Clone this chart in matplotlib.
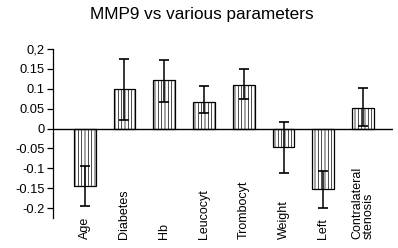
import numpy as np
import matplotlib
matplotlib.use("Agg")
from matplotlib import pyplot as plt
from matplotlib import transforms

plt.rcParams['font.family'] = ['Liberation Sans', 'DejaVu Sans']
plt.rcParams['hatch.linewidth'] = 0.5

labels = ["Age", "Diabetes", "Hb", "Leucocyt", "Trombocyt", "Weight", "Left",
          "Contralateral\nstenosis"]
values = [-0.144, 0.099, 0.121, 0.066, 0.109, -0.047, -0.152, 0.053]
err_low = [0.050, 0.078, 0.055, 0.026, 0.034, 0.064, 0.049, 0.047]
err_up = [0.050, 0.076, 0.052, 0.040, 0.041, 0.064, 0.046, 0.048]
yticks = [0.2, 0.15, 0.1, 0.05, 0, -0.05, -0.1, -0.15, -0.2]
yticklabels = ["0,2", "0.15", "0.1", "0.05", "0", "-0.05", "-0.1", "-0.15", "-0.2"]

fig = plt.figure(figsize=(3.98, 2.48), dpi=100)
ax = fig.add_axes([0.133, 0.121, 0.854, 0.681])

x = np.arange(len(values))
ax.bar(x, values, width=0.55, color="white", edgecolor="black", linewidth=0.9,
       hatch="|||||", zorder=2)
ax.errorbar(x, values, yerr=[err_low, err_up], fmt="none", ecolor="black",
            elinewidth=1.1, capsize=3.8, capthick=1.2, zorder=3)
ax.axhline(0, color="black", lw=1.0, zorder=4)

ax.set_xlim(-0.8, 7.75)
ax.set_ylim(-0.225, 0.2)
ax.set_yticks(yticks)
ax.set_yticklabels(yticklabels, fontsize=9.3)
ax.set_xticks([])
ax.tick_params(axis="y", direction="out", length=4, width=0.9, pad=2)
for s in ["top", "right", "bottom"]:
    ax.spines[s].set_visible(False)
ax.spines["left"].set_linewidth(0.9)

tr = transforms.blended_transform_factory(ax.transData, fig.transFigure)
for xi, lab in zip(x, labels):
    ax.text(xi, 1 - 239 / 248, lab, transform=tr, rotation=90, ha="center",
            va="bottom", multialignment="left", fontsize=9, linespacing=1.0,
            clip_on=False)

fig.text(0.508, 0.94, "MMP9 vs various parameters", ha="center", va="center",
         fontsize=12.3)

fig.savefig("out.png", dpi=100)
